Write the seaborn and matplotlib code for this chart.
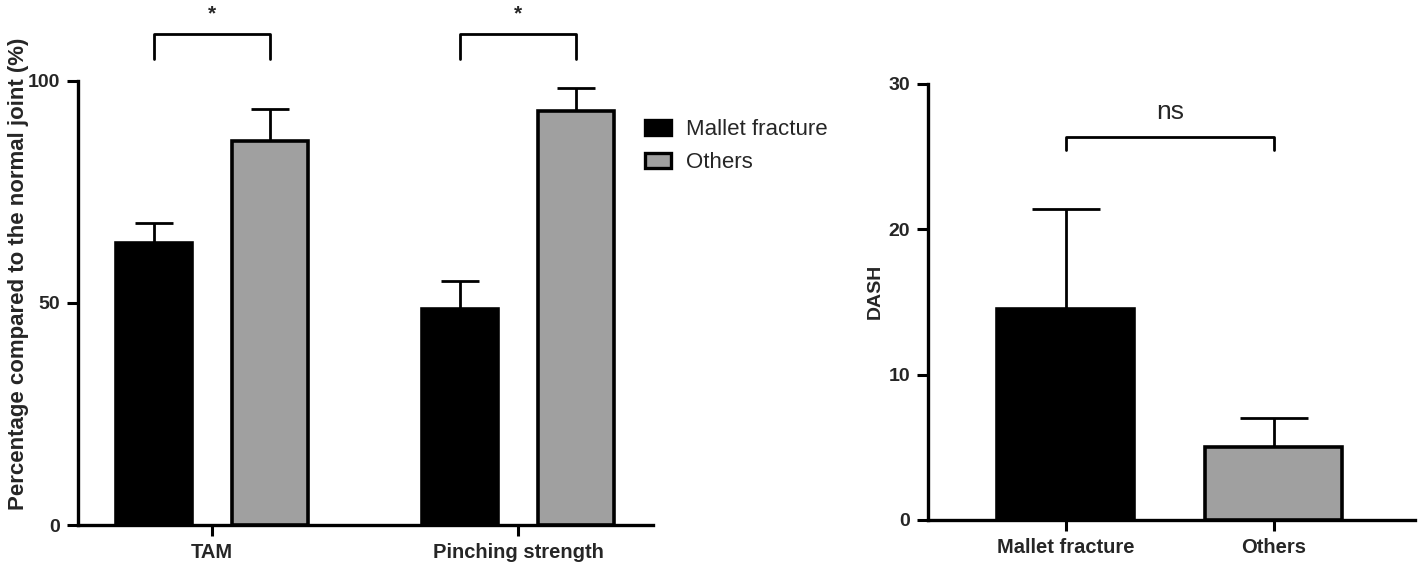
import matplotlib
matplotlib.use("Agg")
import matplotlib.pyplot as plt
import seaborn as sns
import pandas as pd
import numpy as np
from matplotlib.patches import Patch

# ---- data ----
measures = ["TAM", "Pinching strength"]
groups = ["Mallet fracture", "Others"]
mallet_means = [63.6, 48.7]
mallet_err = [4.5, 6.2]
others_means = [86.5, 93.2]
others_err = [7.3, 5.3]

dash_groups = ["Mallet fracture", "Others"]
dash_means = [14.5, 5.0]
dash_err = [6.9, 2.0]

left_sig = ["*", "*"]
right_sig = "ns"

colors = {"Mallet fracture": "#000000", "Others": "#a0a0a0"}

sns.set_theme(style="ticks")
plt.rcParams["font.family"] = ["Liberation Sans", "DejaVu Sans"]

fig = plt.figure(figsize=(14.18, 5.64), dpi=100)
ax1 = fig.add_axes([78/1418, 1-525/564, (653-78)/1418, (525-81)/564])
ax2 = fig.add_axes([928/1418, 1-520/564, (1415-928)/1418, (520-84)/564])

# ---- left panel ----
df1 = pd.DataFrame({
    "measure": measures * 2,
    "group": [groups[0]] * 2 + [groups[1]] * 2,
    "value": mallet_means + others_means,
    "err": mallet_err + others_err,
})
sns.barplot(data=df1, x="measure", y="value", hue="group", order=measures,
            hue_order=groups, palette=colors, width=0.755, gap=0.34,
            errorbar=None, edgecolor="black", linewidth=2.6, ax=ax1,
            legend=False, zorder=3)

patches = [p for p in ax1.patches]
for p, (_, row) in zip(patches, df1.iterrows()):
    xc = p.get_x() + p.get_width() / 2
    ax1.errorbar(xc, row["value"], yerr=[[0], [row["err"]]], fmt="none",
                 ecolor="black", elinewidth=2, capsize=p.get_width() * 306 / 4 * 0.72,
                 capthick=2, zorder=2)

ax1.set_xlim(-0.438, 1.441)
ax1.set_ylim(0, 100)
ax1.set_yticks([0, 50, 100])
ax1.set_xlabel("")
ax1.set_ylabel("Percentage compared to the normal joint (%)", fontsize=16,
               fontweight="bold")
ax1.yaxis.set_label_coords(-0.085, 0.565)

for i, s in enumerate(left_sig):
    bars = [patches[i], patches[i + 2]]
    xs = [b.get_x() + b.get_width() / 2 for b in bars]
    ax1.plot([xs[0], xs[0], xs[1], xs[1]], [105.0, 110.6, 110.6, 105.0],
             color="black", lw=2, clip_on=False)
    ax1.text(np.mean(xs), 113.8, s, ha="center", va="baseline", fontsize=15,
             fontweight="bold", clip_on=False)

handles = [Patch(facecolor=colors[g], edgecolor="black", linewidth=2.4, label=g)
           for g in groups]
leg = ax1.legend(handles=handles, loc="upper left", bbox_to_anchor=(0.9857, 0.9135),
                 frameon=False, fontsize=16, handlelength=1.18, handleheight=0.68,
                 handletextpad=0.68, labelspacing=0.53, borderaxespad=0,
                 borderpad=0)

# ---- right panel ----
df2 = pd.DataFrame({"group": dash_groups, "value": dash_means, "err": dash_err})
sns.barplot(data=df2, x="group", y="value", hue="group", order=dash_groups,
            hue_order=dash_groups, palette=colors, width=0.66, errorbar=None,
            edgecolor="black", linewidth=2.6, ax=ax2, legend=False, zorder=3)
for p, (_, row) in zip(ax2.patches, df2.iterrows()):
    xc = p.get_x() + p.get_width() / 2
    ax2.errorbar(xc, row["value"], yerr=[[0], [row["err"]]], fmt="none",
                 ecolor="black", elinewidth=2, capsize=p.get_width() * 208 / 4 * 0.72,
                 capthick=2, zorder=2)

ax2.set_xlim(-0.663, 1.68)
ax2.set_ylim(0, 30)
ax2.set_yticks([0, 10, 20, 30])
ax2.set_xlabel("")
ax2.set_ylabel("DASH", fontsize=14, fontweight="bold")
ax2.yaxis.set_label_coords(-0.090, 0.525)
ax2.plot([0, 0, 1, 1], [25.45, 26.36, 26.36, 25.45], color="black", lw=2, clip_on=False)
ax2.text(0.5, 28.1, right_sig, ha="center", va="center", fontsize=19)

for ax in (ax1, ax2):
    sns.despine(ax=ax)
    for side in ("left", "bottom"):
        ax.spines[side].set_linewidth(2.4)
        ax.spines[side].set_color("black")
    ax.tick_params(axis="both", width=2.2, length=8, color="black", pad=5)
    ax.tick_params(axis="x", labelsize=14.5)
    ax.tick_params(axis="y", labelsize=14)
    for lab in ax.get_xticklabels() + ax.get_yticklabels():
        lab.set_fontweight("bold")
    ax.set_facecolor("white")

fig.savefig("out.png", dpi=100, facecolor="white")
